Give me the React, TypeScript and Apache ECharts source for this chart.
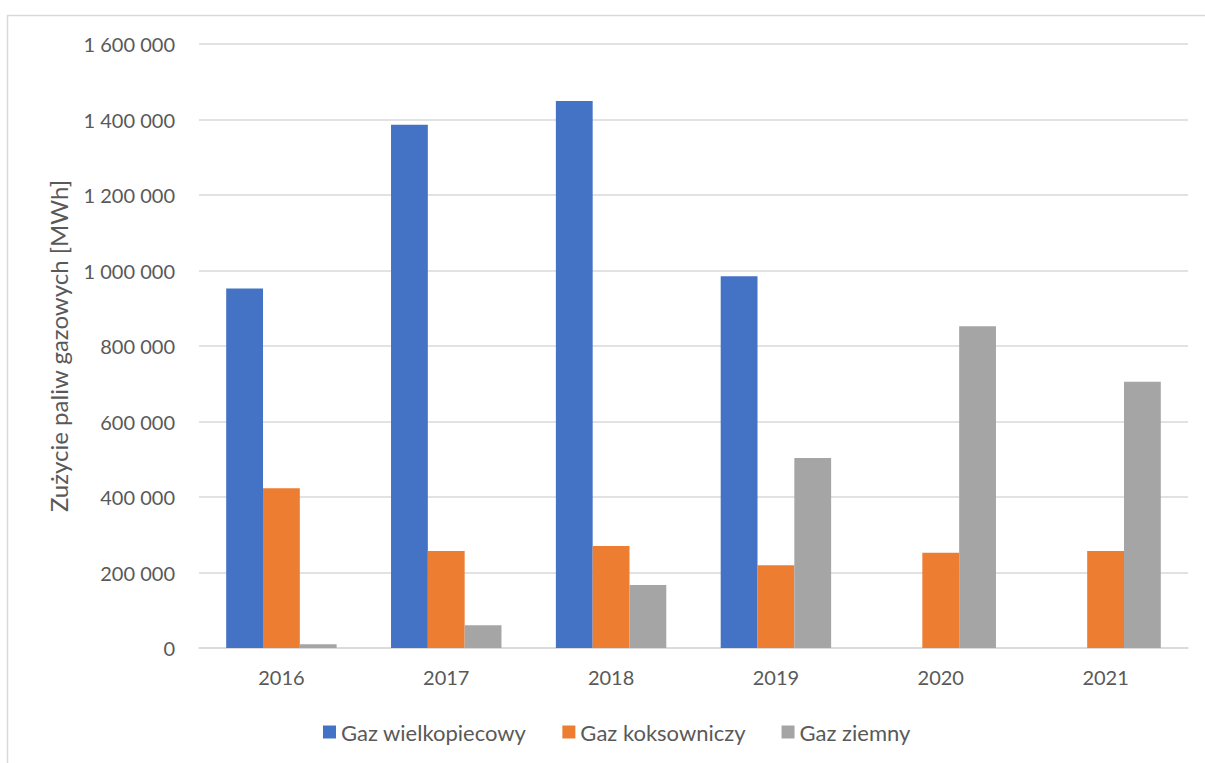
import React, { useEffect, useRef } from "react";
import * as echarts from "echarts";

const categories = ["2016", "2017", "2018", "2019", "2020", "2021"];
const gazWielkopiecowy = [952000, 1386000, 1449000, 985000, 0, 0];
const gazKoksowniczy = [423000, 257000, 270000, 219000, 252000, 257000];
const gazZiemny = [10000, 60000, 167000, 503000, 852000, 705000];
const seriesNames = ["Gaz wielkopiecowy", "Gaz koksowniczy", "Gaz ziemny"];
const colors = ["#4472C4", "#ED7D31", "#A5A5A5"];
const yAxisTitle = "Zużycie paliw gazowych [MWh]";

const FONT = "Lato, 'Noto Sans', sans-serif";
const TEXT = "#595959";

function fmt(v: number): string {
  return String(Math.round(v)).replace(/\B(?=(\d{3})+(?!\d))/g, " ");
}

export default function App() {
  const ref = useRef<HTMLDivElement>(null);
  useEffect(() => {
    if (!ref.current) return;
    const chart = echarts.init(ref.current, undefined, { renderer: "svg" });
    const data = [gazWielkopiecowy, gazKoksowniczy, gazZiemny];
    chart.setOption({
      animation: false,
      backgroundColor: "#ffffff",
      graphic: [
        {
          type: "rect",
          shape: { x: 7.5, y: 15.5, width: 1400, height: 900 },
          style: { fill: "none", stroke: "#D9D9D9", lineWidth: 1.5 },
          silent: true,
        },
      ],
      grid: { left: 199, right: 17, top: 44, bottom: 115, containLabel: false },
      legend: {
        left: 318,
        top: 716,
        itemWidth: 13,
        itemHeight: 13,
        itemGap: 36,
        icon: "rect",
        textStyle: { color: TEXT, fontSize: 22, fontFamily: FONT },
        data: seriesNames,
      },
      xAxis: {
        type: "category",
        data: categories,
        axisTick: { show: false },
        axisLine: { lineStyle: { color: "#D9D9D9", width: 1.5 } },
        axisLabel: { color: TEXT, fontSize: 20, fontFamily: FONT, margin: 19 },
      },
      yAxis: {
        type: "value",
        min: 0,
        max: 1600000,
        interval: 200000,
        name: yAxisTitle,
        nameLocation: "middle",
        nameGap: 129,
        nameRotate: 90,
        nameTextStyle: { color: TEXT, fontSize: 24, fontFamily: FONT },
        axisLine: { show: false },
        axisTick: { show: false },
        splitLine: { lineStyle: { color: "#D9D9D9", width: 1.5 } },
        axisLabel: {
          color: TEXT,
          fontSize: 20,
          fontFamily: FONT,
          margin: 24,
          formatter: (v: number) => fmt(v),
        },
      },
      series: seriesNames.map((name, i) => ({
        name,
        type: "bar",
        data: data[i],
        barGap: "0%",
        barCategoryGap: "33%",
        itemStyle: { color: colors[i] },
      })),
    });
    return () => chart.dispose();
  }, []);
  return (
    <div
      ref={ref}
      style={{ position: "absolute", left: 0, top: 0, width: 1205, height: 763 }}
    />
  );
}
